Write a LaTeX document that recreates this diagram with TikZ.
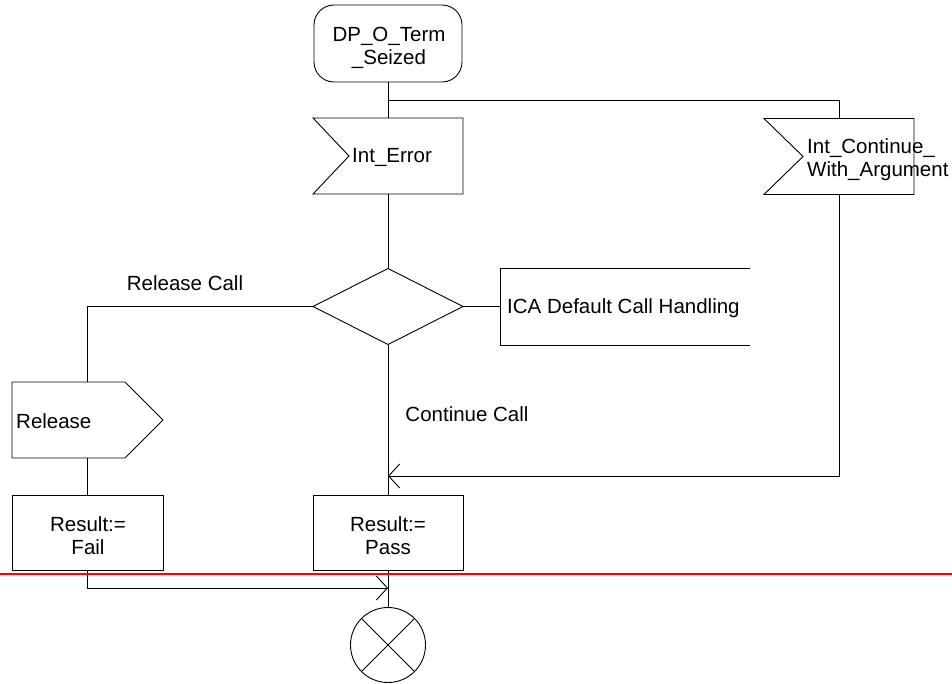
\documentclass[tikz,border=0pt]{standalone}
\usepackage{fontspec}
\setmainfont{Liberation Sans}
\usetikzlibrary{arrows.meta}
\newcommand{\diagfont}{\fontsize{20.5pt}{23pt}\selectfont}
\begin{document}
\begin{tikzpicture}[x=1pt,y=-1pt,
  frame/.style={inner sep=0pt, outer sep=0pt, minimum width=150pt, minimum height=76pt, align=center, font=\diagfont, line width=0.9pt},
  txt/.style={inner sep=0pt, align=left, font=\diagfont},
  ctxt/.style={inner sep=0pt, align=center, font=\diagfont},
  outline/.style={draw=black, line width=0.9pt},
  conn/.style={draw=black, line width=0.9pt},
  arr/.style={conn, -{Straight Barb[length=11pt,width=24pt,line width=0.9pt]}}]
\useasboundingbox (0,0) rectangle (952,684);

% start
\node[frame, draw, rounded corners=20pt, minimum width=148pt, minimum height=77pt] (start) at (388,43.5) {};
\node[ctxt] (starttext) at (389,47.5) {DP\_O\_Term\\\_Seized};

% Int_Error input
\node[frame] (interr) at (388,156) {};
\draw[outline] (interr.north west) -- (interr.north east) -- (interr.south east) -- (interr.south west) -- ([xshift=36pt]interr.west) -- cycle;
\node[txt, anchor=west] (interrtext) at (352,157) {Int\_Error};

% Int_Continue_With_Argument input
\node[frame] (icc) at (839,156.5) {};
\draw[outline] (icc.north west) -- (icc.north east) -- (icc.south east) -- (icc.south west) -- ([xshift=39pt]icc.west) -- cycle;
\node[txt, anchor=west] (icctext) at (807,160) {Int\_Continue\_\\With\_Argument};

% decision
\node[frame] (dec) at (388,306.5) {};
\draw[outline] (dec.north) -- (dec.east) -- (dec.south) -- (dec.west) -- cycle;

% ICA box (open on the right)
\node[frame, minimum width=250pt, minimum height=77pt] (ica) at (625,306.5) {};
\draw[outline] (ica.north east) -- (ica.north west) -- (ica.south west) -- (ica.south east);
\node[txt, anchor=west] (icatext) at (507,308) {ICA Default Call Handling};

% Release output
\node[frame, minimum width=151pt] (rel) at (87.5,420) {};
\draw[outline] (rel.north west) -- ([xshift=-38pt]rel.north east) -- (rel.east) -- ([xshift=-38pt]rel.south east) -- (rel.south west) -- cycle;
\node[txt, anchor=west] (reltext) at (16,421) {Release};

% tasks
\node[frame, draw, minimum width=151pt, minimum height=75pt] (fail) at (87.5,532.5) {};
\node[ctxt] (failtext) at (88,536) {Result:=\\Fail};
\node[frame, draw, minimum width=150pt, minimum height=75pt] (pass) at (388,532.5) {};
\node[ctxt] (passtext) at (388,536) {Result:=\\Pass};

% stop
\node[circle, draw, line width=0.9pt, minimum size=75pt, inner sep=0pt, outer sep=0pt] (stop) at (388,645) {};
\draw[outline] (stop.north west) -- (stop.south east);
\draw[outline] (stop.north east) -- (stop.south west);

% connectors
\draw[conn] (start.south) -- (interr.north);
\coordinate (br) at (388,100);
\draw[conn] (br) -| (icc.north);
\draw[conn] (interr.south) -- (dec.north);
\draw[conn] (dec.east) -- (ica.west);
\draw[conn] (dec.west) -| (rel.north);
\node[txt] (lrel) at (185,283) {Release Call};
\draw[conn] (dec.south) -- (pass.north);
\node[txt] (lcont) at (467,414) {Continue Call};
\coordinate (j1) at (388,476);
\draw[arr] (icc.south) |- (j1);
\draw[conn] (rel.south) -- (fail.north);
\coordinate (j2) at (388,588);
\draw[arr] (fail.south) |- (j2);
\draw[conn] (pass.south) -- (stop.north);

% red marker line
\draw[red, line width=2pt] (0,574) -- (952,574);
\end{tikzpicture}
\end{document}
